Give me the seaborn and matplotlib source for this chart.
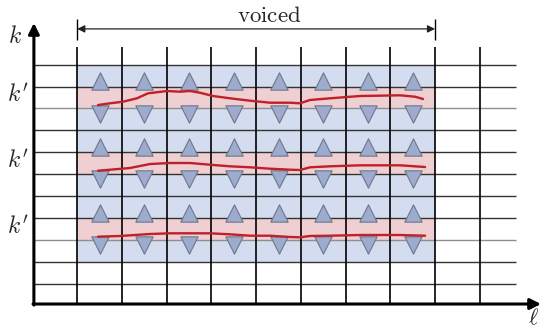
import numpy as np
import pandas as pd
import matplotlib
matplotlib.use("Agg")
import matplotlib.pyplot as plt
import seaborn as sns

# ---- data ----
grid_cols = [1, 2, 3, 4, 5, 6, 7, 8, 9, 10]          # vertical grid lines (ell)
grid_rows = [1, 2, 3, 4, 5, 6, 7, 8, 9, 10, 11]      # horizontal grid lines (k)
light_rows = [3, 9]
voiced_span = [1, 9]
blue_rows = [2, 11]
bands = [3, 6, 9]                                    # pink bands (k to k+1)
tri_cols = [1.5, 2.5, 3.5, 4.5, 5.5, 6.5, 7.5, 8.5]

ell_1 = [1.464, 1.732, 2.022, 2.335, 2.582, 3.007, 3.297, 3.521, 3.744, 4.035,
         4.415, 4.862, 5.310, 5.757, 5.981, 6.204, 6.652, 7.323, 8.218, 8.553, 8.732]
k_1 = [9.155, 9.233, 9.306, 9.461, 9.689, 9.795, 9.763, 9.795, 9.717, 9.566,
       9.461, 9.352, 9.260, 9.260, 9.233, 9.384, 9.461, 9.566, 9.598, 9.534, 9.429]

ell_2 = [1.464, 1.732, 2.179, 2.627, 3.074, 3.521, 3.968, 4.415, 4.862, 5.310,
         5.757, 5.981, 6.204, 6.652, 7.323, 8.218, 8.777]
k_2 = [6.155, 6.201, 6.279, 6.461, 6.507, 6.507, 6.429, 6.356, 6.311, 6.247,
       6.201, 6.187, 6.311, 6.356, 6.402, 6.402, 6.324]

ell_3 = [1.464, 1.956, 2.627, 3.074, 3.521, 3.968, 4.415, 4.862, 5.310, 5.757,
         5.981, 6.204, 6.652, 7.323, 8.218, 8.777]
k_3 = [3.142, 3.174, 3.265, 3.297, 3.297, 3.297, 3.251, 3.187, 3.187, 3.128,
       3.114, 3.174, 3.187, 3.219, 3.219, 3.187]

# ---- figure ----
sns.set_theme(style="white")
plt.rcParams["mathtext.fontset"] = "cm"
plt.rcParams["font.family"] = ["DejaVu Serif"]

fig = plt.figure(figsize=(5.42, 3.31), dpi=100)
ax = fig.add_axes([0, 0, 1, 1])

BLUE = "#d3ddef"
PINK = "#efcfd1"
TRI = "#9dabcf"
TRI_EDGE = "#6f7687"
RED = "#c0202a"

ax.fill_between(voiced_span, blue_rows[0], blue_rows[1], color=BLUE, lw=0, zorder=0)
for b in bands:
    ax.fill_between(voiced_span, b, b + 1, color=PINK, lw=0, zorder=1)

x0, y0 = 0.03, 0.068
for r in grid_rows:
    c = "#8f8f8f" if r in light_rows else "#333333"
    ax.hlines(r, x0, 10.81, color=c, lw=1.0, zorder=2)
ax.vlines(grid_cols, y0, 11.8, color="black", lw=1.2, zorder=2)

# axes arrows
ax.annotate("", xy=(11.37, y0), xytext=(x0 - 0.02, y0),
            arrowprops=dict(arrowstyle="-|>", lw=2.2, color="black",
                            mutation_scale=16, shrinkA=0, shrinkB=0), zorder=6)
ax.annotate("", xy=(x0, 12.9), xytext=(x0, y0 - 0.05),
            arrowprops=dict(arrowstyle="-|>", lw=2.2, color="black",
                            mutation_scale=16, shrinkA=0, shrinkB=0), zorder=6)

# voiced arrow
ax.annotate("", xy=(voiced_span[1], 12.63), xytext=(voiced_span[0], 12.63),
            arrowprops=dict(arrowstyle="<|-|>", lw=0.9, color="#222222",
                            mutation_scale=11, shrinkA=0, shrinkB=0), zorder=6)
ax.vlines(voiced_span, 12.12, 13.09, color="black", lw=1.0, zorder=6)
ax.text(5.29, 13.22, r"$\mathrm{voiced}$", ha="center", va="center", fontsize=16.5)

# triangles
up_x, up_y, dn_x, dn_y = [], [], [], []
for b in bands:
    for c in tri_cols:
        up_x.append(c); up_y.append(b + 1 + 0.24)
        dn_x.append(c); dn_y.append(b - 0.24)
tri_df = pd.DataFrame({"ell": up_x, "k": up_y})
dn_df = pd.DataFrame({"ell": dn_x, "k": dn_y})
sns.scatterplot(data=tri_df, x="ell", y="k", marker="^", s=155, color=TRI,
                edgecolor=TRI_EDGE, linewidth=0.8, zorder=4, ax=ax, legend=False)
sns.scatterplot(data=dn_df, x="ell", y="k", marker="v", s=155, color=TRI,
                edgecolor=TRI_EDGE, linewidth=0.8, zorder=4, ax=ax, legend=False)

# red trajectories
for ex, ky in [(ell_1, k_1), (ell_2, k_2), (ell_3, k_3)]:
    df = pd.DataFrame({"ell": ex, "k": ky})
    sns.lineplot(data=df, x="ell", y="k", estimator=None, sort=False, color=RED,
                 lw=1.7, zorder=5, ax=ax, legend=False)
ax.axis("off")
ax.set_xlim(-0.728, 11.392)
ax.set_ylim(-1.164, 13.95)

# labels
ax.text(-0.403, 12.27, r"$k$", ha="center", va="center", fontsize=17)
for b in bands:
    ax.text(-0.325, b + 0.6, r"$k'$", ha="center", va="center", fontsize=17)
ax.text(11.21, -1.08, r"$\ell$", ha="center", va="bottom", fontsize=16)

fig.savefig("out.png", dpi=100)
